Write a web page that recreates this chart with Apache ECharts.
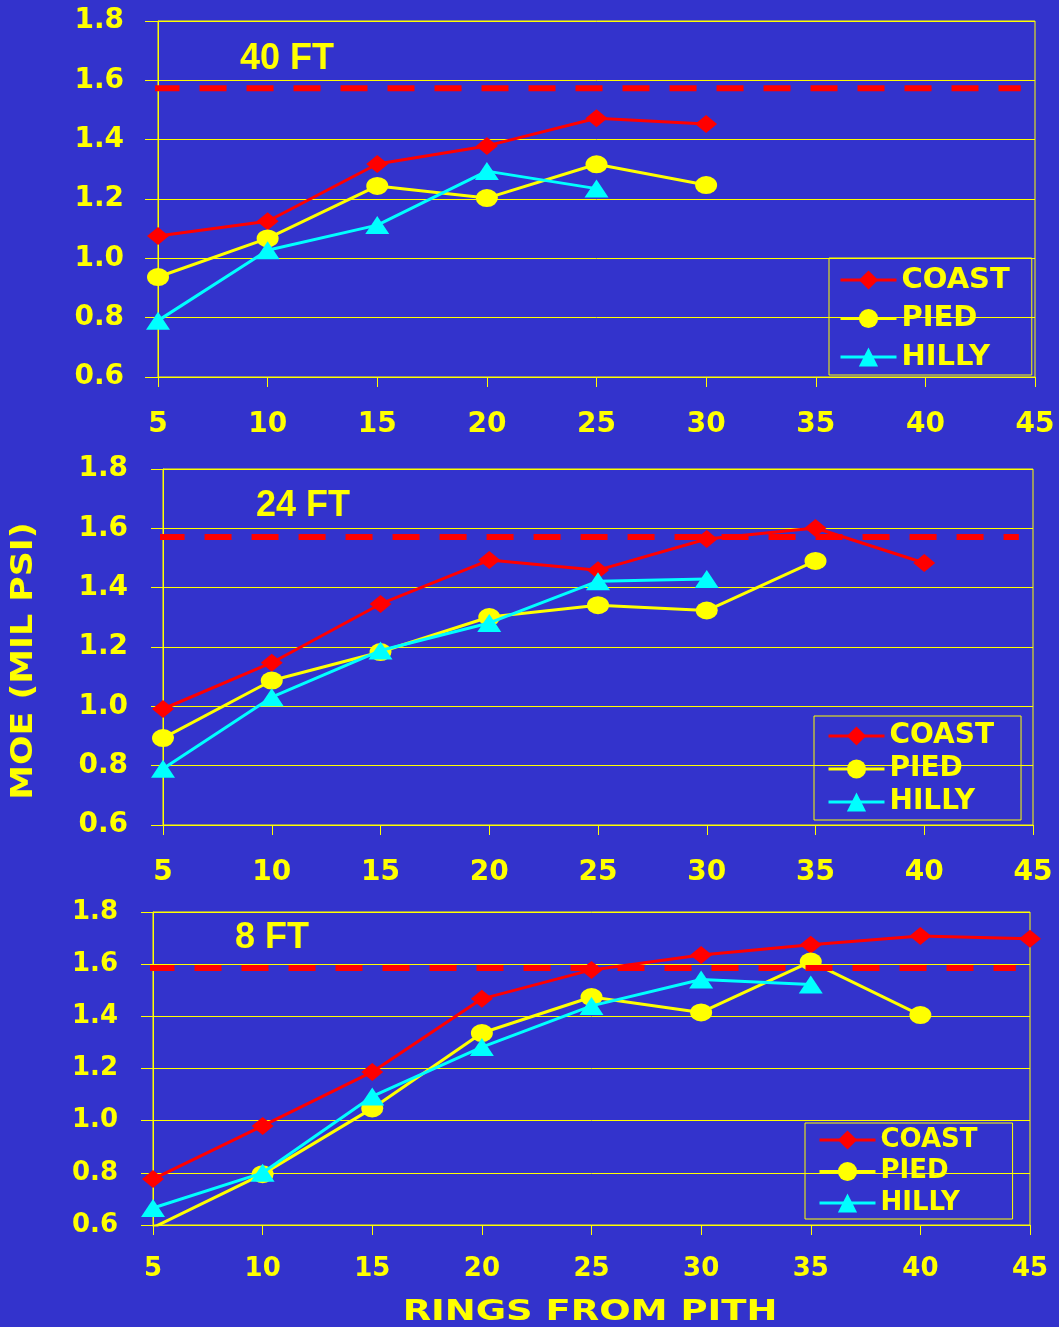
<!DOCTYPE html>
<html><head><meta charset="utf-8">
<script src="https://cdn.jsdelivr.net/npm/echarts@6/dist/echarts.min.js"></script>
<style>html,body{margin:0;padding:0;background:#3333CC}#c{width:1059px;height:1327px}</style>
</head><body><div id="c"></div>
<script>
// ---- data ----
const rings = [5, 10, 15, 20, 25, 30, 35, 40, 45];
const coast40 = [1.075, 1.125, 1.318, 1.379, 1.472, 1.453];
const pied40  = [0.937, 1.067, 1.244, 1.203, 1.317, 1.247];
const hilly40 = [0.79, 1.027, 1.112, 1.294, 1.235];
const coast24 = [0.991, 1.147, 1.345, 1.493, 1.459, 1.564, 1.601, 1.483];
const pied24  = [0.893, 1.087, 1.183, 1.301, 1.341, 1.323, 1.49];
const hilly24 = [0.79, 1.031, 1.188, 1.281, 1.422, 1.429];
const coast8  = [0.776, 0.98, 1.187, 1.467, 1.578, 1.635, 1.674, 1.708, 1.697];
const pied8   = [0.59, 0.795, 1.047, 1.336, 1.474, 1.415, 1.61, 1.405];
const hilly8  = [0.665, 0.8, 1.093, 1.282, 1.44, 1.541, 1.522];
const refValues = [1.573, 1.571, 1.585];
const refSpan = [4.75, 44.35];
const panelTitles = ['40 FT', '24 FT', '8 FT'];
const seriesNames = ['COAST', 'PIED', 'HILLY'];
const yAxisTitle = 'MOE (MIL PSI)';
const xAxisTitle = 'RINGS FROM PITH';

// ---- layout / style ----
const YEL = '#FFFF00', RED = '#FF0000', CYAN = '#00FFFF', BG = '#3333CC';
const FONT = 'DejaVu Sans';
const panels = [
  { grid: {left: 158, top: 21, width: 877, height: 356}, vals: [coast40, pied40, hilly40],
    lab: 28, xMargin: 34, yMargin: 34, tickY: 13,
    title: {x: 240, y: 59},
    legend: {left: 829, top: 258, padding: [7, 22, 3, 10], itemGap: 8.5, font: 29, lh: 30} },
  { grid: {left: 163, top: 469, width: 870, height: 356}, vals: [coast24, pied24, hilly24],
    lab: 28, xMargin: 34, yMargin: 35, tickY: 12,
    title: {x: 256, y: 506},
    legend: {left: 814, top: 716, padding: [6, 27, 4, 13], itemGap: 5, font: 28, lh: 28} },
  { grid: {left: 153, top: 912, width: 877, height: 313}, vals: [coast8, pied8, hilly8],
    lab: 26, xMargin: 31, yMargin: 35, tickY: 12,
    title: {x: 235, y: 938},
    legend: {left: 805, top: 1123, padding: [4, 35, 3, 13], itemGap: 5.5, font: 26, lh: 26} }
];
const colors = [RED, YEL, CYAN];
const symbols = ['diamond', 'circle', 'triangle'];
const symSizes = [[22, 18], [22, 18], [24, 18]];

const grid = [], xAxis = [], yAxis = [], series = [], legend = [], graphic = [];
panels.forEach((p, k) => {
  grid.push(Object.assign({show: true, borderColor: YEL, borderWidth: 1, backgroundColor: 'transparent'}, p.grid));
  xAxis.push({
    type: 'value', gridIndex: k, min: 5, max: 45, interval: 5,
    axisLine: {show: true, lineStyle: {color: YEL, width: 1}},
    axisTick: {show: true, length: 10, lineStyle: {color: YEL, width: 1}},
    splitLine: {show: false},
    axisLabel: {color: YEL, fontFamily: FONT, fontWeight: 'bold', fontSize: p.lab, margin: p.xMargin}
  });
  yAxis.push({
    type: 'value', gridIndex: k, min: 0.6, max: 1.8, interval: 0.2,
    axisLine: {show: true, lineStyle: {color: YEL, width: 1}},
    axisTick: {show: true, length: p.tickY, lineStyle: {color: YEL, width: 1}},
    splitLine: {show: true, lineStyle: {color: YEL, width: 1}},
    axisLabel: {color: YEL, fontFamily: FONT, fontWeight: 'bold', fontSize: p.lab, margin: p.yMargin,
      formatter: v => v.toFixed(1)}
  });
  p.vals.forEach((arr, s) => {
    series.push({
      name: seriesNames[s], type: 'line', xAxisIndex: k, yAxisIndex: k,
      data: arr.map((v, i) => [rings[i], v]),
      symbol: symbols[s], symbolSize: symSizes[s], clip: true,
      lineStyle: {color: colors[s], width: 3},
      itemStyle: {color: colors[s]},
      z: 3 + s
    });
  });
  series.push({
    name: 'ref' + k, type: 'line', xAxisIndex: k, yAxisIndex: k, clip: false,
    data: refSpan.map(x => [x, refValues[k]]), symbol: 'none',
    lineStyle: {color: RED, width: 6, type: [27, 20]}, z: 8, silent: true
  });
  const L = p.legend;
  legend.push({
    left: L.left, top: L.top, orient: 'vertical', padding: L.padding, itemGap: L.itemGap,
    itemWidth: 56, itemHeight: 24, borderColor: YEL, borderWidth: 1, selectedMode: false,
    lineStyle: {width: 3},
    textStyle: {color: YEL, fontFamily: FONT, fontWeight: 'bold', fontSize: L.font, lineHeight: L.lh},
    data: seriesNames
  });
  graphic.push({
    type: 'text', x: p.title.x, y: p.title.y,
    style: {text: panelTitles[k], fill: YEL, font: 'bold 36px "Liberation Sans"', align: 'left', verticalAlign: 'middle'}
  });
});
graphic.push({
  type: 'text', x: 24, y: 661, rotation: Math.PI / 2, scaleX: 1.16,
  style: {text: yAxisTitle, fill: YEL, font: 'bold 30px "DejaVu Sans"', align: 'center', verticalAlign: 'middle'}
});
graphic.push({
  type: 'text', x: 590, y: 1313, scaleX: 1.32,
  style: {text: xAxisTitle, fill: YEL, font: 'bold 28px "DejaVu Sans"', align: 'center', verticalAlign: 'middle'}
});

const chart = echarts.init(document.getElementById('c'));
chart.setOption({
  backgroundColor: BG, animation: false,
  grid, xAxis, yAxis, series, legend, graphic
});
</script></body></html>
